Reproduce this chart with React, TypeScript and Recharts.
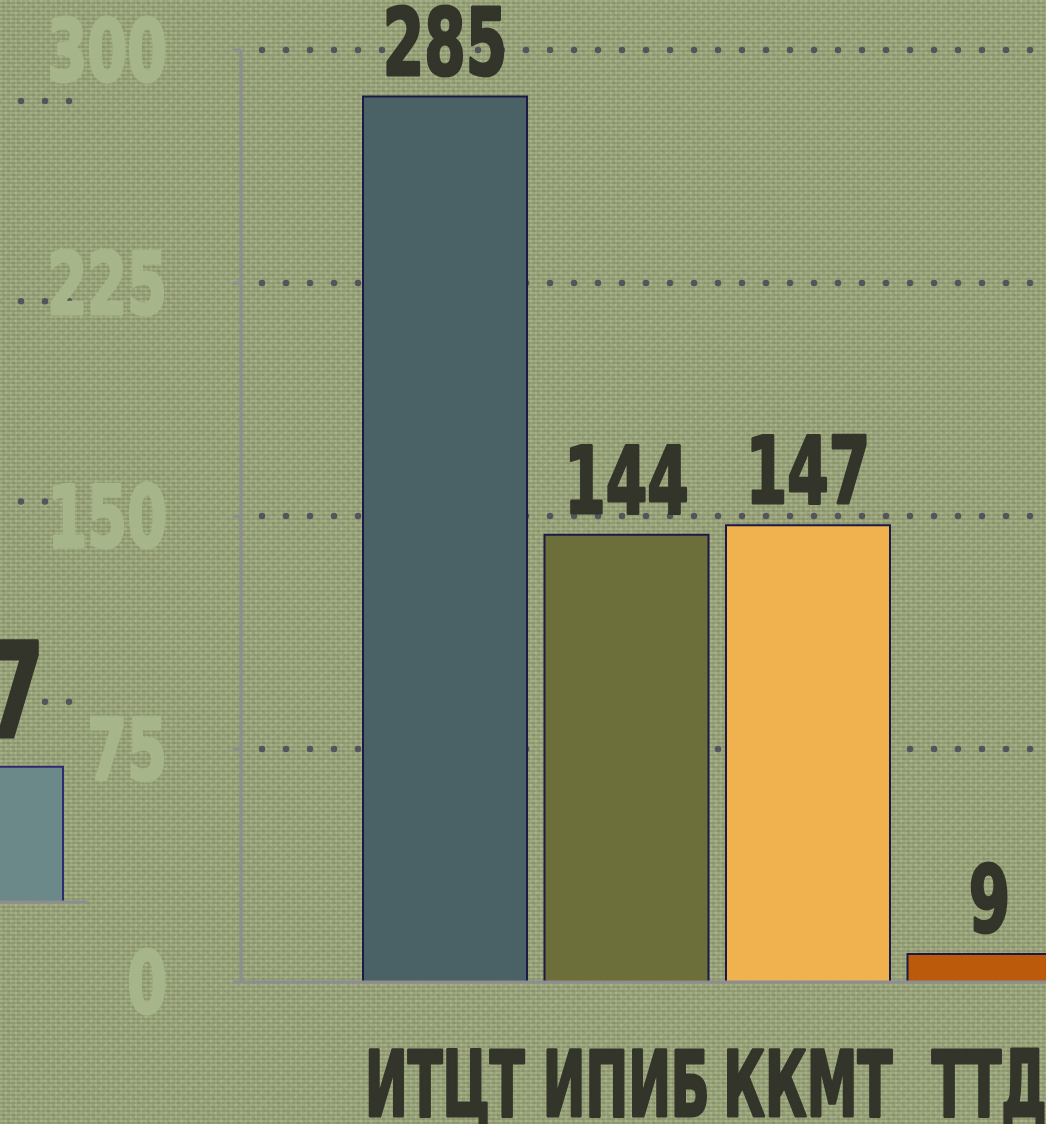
import { BarChart, Bar, XAxis, YAxis, CartesianGrid, LabelList, Cell } from "recharts";

// main chart data
const categories = ["ИТЦТ", "ИПИБ", "ККМТ", "ТТД"];
const values = [285, 144, 147, 9];
const barColors = ["#4a6166", "#6d6f3a", "#f0b14f", "#bb5a0a"];
const yTicks = [0, 75, 150, 225, 300];
const gridValues = [75, 150, 225, 300];

// fragment of the neighbouring chart cut off at the left edge
const leftCategories = [""];
const leftValues = [27];
const leftTicks = [0, 40, 80, 120, 160];
const leftGridValues = [40, 80, 120, 160];

const FONT = '"DejaVu Sans Condensed", "DejaVu Sans", sans-serif';
const INK = "#33352a";
const AXIS = "#8e8e92";

const chartData = categories.map((name, i) => ({ name, value: values[i] }));
const leftData = leftCategories.map((name, i) => ({ name, value: leftValues[i] }));

const dotLine = (offset: number) => (p: any) => (
  <line
    key={`grid-${p.index}-${p.y1}`}
    x1={p.x1}
    y1={p.y1}
    x2={p.x2}
    y2={p.y2}
    stroke="#53545c"
    strokeWidth={6.5}
    strokeDasharray="0 24"
    strokeDashoffset={offset}
    strokeLinecap="round"
    fill="none"
  />
);

// squeezed heavy text, the reference uses an Impact-like face
function Squeezed({ x, y, sx, size, anchor, fill, children }: any) {
  return (
    <g transform={`translate(${x},${y})`}>
      <text
        x={0}
        y={0}
        transform={`scale(${sx},1)`}
        textAnchor={anchor}
        fill={fill}
        stroke={fill}
        strokeWidth={3}
        strokeLinejoin="round"
        fontFamily={FONT}
        fontWeight="bold"
        fontSize={size}
      >
        {children}
      </text>
    </g>
  );
}

function CategoryTick({ x, y, payload }: any) {
  return (
    <Squeezed x={x} y={y + 134} sx={0.63} size={90} anchor="middle" fill={INK}>
      {payload.value}
    </Squeezed>
  );
}

function ValueTick({ x, y, payload }: any) {
  return (
    <Squeezed x={x} y={y + 31} sx={0.74} size={86} anchor="end" fill="#a7b68a">
      {payload.value}
    </Squeezed>
  );
}

const valueLabel = (size: number, gap: number) => (p: any) => (
  <Squeezed
    key={`lbl-${p.index}`}
    x={p.x + p.width / 2}
    y={p.y - gap}
    sx={0.72}
    size={size}
    anchor="middle"
    fill={INK}
  >
    {p.value}
  </Squeezed>
);

const linen = {
  backgroundColor: "#9ca77e",
  backgroundImage: [
    "repeating-linear-gradient(0deg, rgba(60,70,40,0.16) 0px, rgba(60,70,40,0.16) 2px, transparent 2px, transparent 4px)",
    "repeating-linear-gradient(90deg, rgba(225,235,195,0.14) 0px, rgba(225,235,195,0.14) 2px, transparent 2px, transparent 5px)",
    "repeating-linear-gradient(45deg, rgba(70,80,50,0.07) 0px, rgba(70,80,50,0.07) 3px, transparent 3px, transparent 7px)",
    "repeating-linear-gradient(-45deg, rgba(230,240,200,0.06) 0px, rgba(230,240,200,0.06) 2px, transparent 2px, transparent 9px)",
  ].join(","),
};

export default function App() {
  return (
    <div
      style={{
        position: "fixed",
        left: 0,
        top: 0,
        width: 1046,
        height: 1124,
        overflow: "hidden",
        ...linen,
      }}
    >
      {/* left fragment */}
      <div style={{ position: "absolute", left: -117, top: 0 }}>
        <BarChart
          width={204}
          height={1124}
          data={leftData}
          margin={{ top: 101, right: 0, bottom: 0, left: 0 }}
        >
          <CartesianGrid
            vertical={false}
            horizontalValues={leftGridValues}
            horizontal={dotLine(6)}
          />
          <XAxis
            dataKey="name"
            height={222}
            tick={false}
            tickLine={false}
            axisLine={{ stroke: AXIS, strokeWidth: 3 }}
          />
          <YAxis hide domain={[0, 160]} ticks={leftTicks} />
          <Bar
            dataKey="value"
            barSize={156}
            fill="#6c898a"
            stroke="#2f2a70"
            strokeWidth={2}
            isAnimationActive={false}
          >
            <LabelList dataKey="value" content={valueLabel(132, 30)} />
          </Bar>
        </BarChart>
      </div>

      {/* main chart */}
      <div style={{ position: "absolute", left: 0, top: 0 }}>
        <BarChart
          width={1080}
          height={1124}
          data={chartData}
          margin={{ top: 50, right: 0, bottom: 0, left: 0 }}
        >
          <CartesianGrid
            vertical={false}
            horizontalValues={gridValues}
            horizontal={dotLine(3)}
          />
          <XAxis
            dataKey="name"
            height={142}
            padding={{ left: 113, right: 0 }}
            tickLine={false}
            tickSize={0}
            tickMargin={0}
            interval={0}
            axisLine={{ stroke: AXIS, strokeWidth: 3 }}
            tick={<CategoryTick />}
          />
          <YAxis
            width={241}
            domain={[0, 300]}
            ticks={yTicks}
            interval={0}
            tickSize={8}
            tickMargin={66}
            axisLine={{ stroke: AXIS, strokeWidth: 3 }}
            tickLine={{ stroke: AXIS, strokeWidth: 3 }}
            tick={<ValueTick />}
          />
          <Bar
            dataKey="value"
            barSize={164}
            stroke="#1c1a45"
            strokeWidth={2}
            isAnimationActive={false}
          >
            {chartData.map((d, i) => (
              <Cell key={d.name} fill={barColors[i]} />
            ))}
            <LabelList dataKey="value" content={valueLabel(92, 22)} />
          </Bar>
        </BarChart>
      </div>
    </div>
  );
}
